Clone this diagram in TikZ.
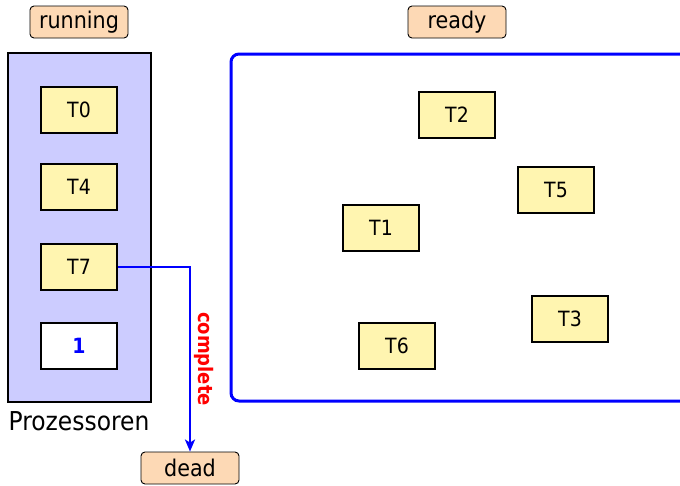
\documentclass[tikz,border=0pt]{standalone}
\usepackage{fontspec}
\setmainfont{DejaVu Sans Condensed}
\usetikzlibrary{arrows.meta}
\definecolor{peach}{RGB}{253,217,181}
\definecolor{procfill}{RGB}{204,204,255}
\definecolor{taskfill}{RGB}{255,245,176}
\tikzset{
  x=1pt, y=-1pt,
  statelabel/.style={draw=black, line width=0.9pt, fill=peach, rounded corners=4pt,
    minimum width=98pt, minimum height=32pt, inner sep=0pt, font=\fontsize{23}{26}\selectfont},
  task/.style={draw=black, line width=1.6pt, fill=taskfill, minimum width=76pt,
    minimum height=46pt, inner sep=0pt, font=\fontsize{21}{24}\selectfont},
  conn/.style={draw=blue, line width=2.2pt, -{Stealth[length=12pt,width=10pt,inset=3pt]}}
}
\begin{document}
\begin{tikzpicture}
\useasboundingbox (0,0) rectangle (680,485);
% running side
\node[statelabel] (running) at (79,22) {running};
\node[draw=black, line width=1.6pt, fill=procfill, minimum width=143pt, minimum height=349pt,
  inner sep=0pt] (proc) at (79.5,227.5) {};
\node[task] (T0) at (79,110) {T0};
\node[task] (T4) at (79,187) {T4};
\node[task] (T7) at (79,267) {T7};
\node[task, fill=white, text=blue, font=\fontsize{21}{24}\selectfont\bfseries] (P1) at (79,346) {1};
\node[font=\fontsize{26}{30}\selectfont] (prozlabel) at (79,421) {Prozessoren};
% ready side
\node[statelabel] (ready) at (457,22) {ready};
\draw[blue, line width=3pt, rounded corners=8pt] (231,54) rectangle (700,401);
\node[task] (T2) at (457,115) {T2};
\node[task] (T5) at (556,190) {T5};
\node[task] (T1) at (381,228) {T1};
\node[task] (T3) at (570,319) {T3};
\node[task] (T6) at (397,346) {T6};
% dead
\node[statelabel] (dead) at (190,468) {dead};
\coordinate (bend) at (190,267);
\draw[conn] (T7.east) -- (bend) -- (dead.north);
\node[text=red, rotate=-90, font=\fontsize{20}{24}\selectfont\bfseries] (complete) at (204,359) {complete};
\end{tikzpicture}
\end{document}
